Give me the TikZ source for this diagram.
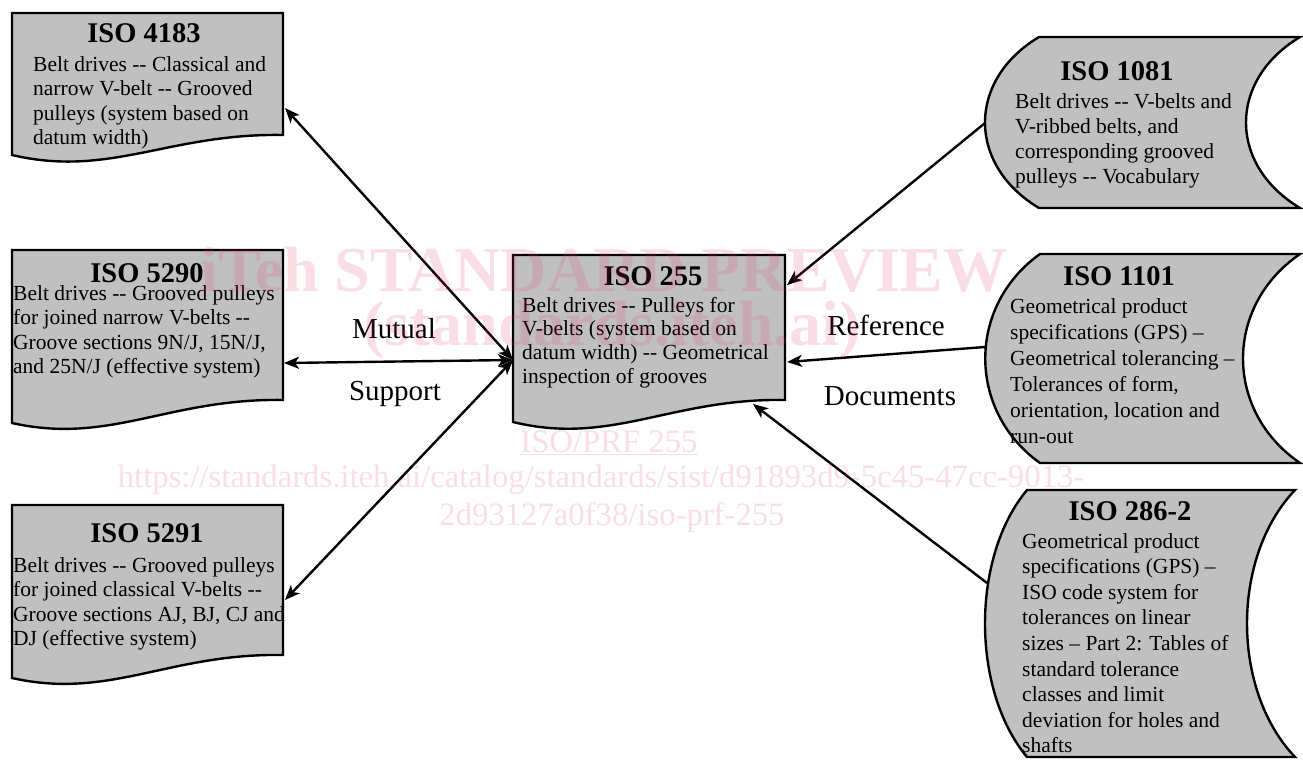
\documentclass[tikz,border=0pt]{standalone}
\usepackage{fontspec}
\newfontfamily\cam{Liberation Serif}
\usetikzlibrary{arrows.meta}
\definecolor{boxgray}{RGB}{192,192,192}
\definecolor{wm}{RGB}{230,60,110}
\begin{document}
\begin{tikzpicture}[x=1pt,y=-1pt,
  shapeline/.style={draw=black, line width=2.4pt, fill=boxgray, line join=miter},
  body/.style={font=\cam\fontsize{21.5}{#1}\selectfont, align=left, anchor=base west, inner sep=0pt},
  body/.default=24.6,
  ttl/.style={font=\cam\bfseries\fontsize{28.5}{30}\selectfont, anchor=base, inner sep=0pt},
  lbl/.style={font=\cam\fontsize{29}{30}\selectfont, inner sep=0pt},
  tip/.tip={Stealth[length=15pt,width=12pt,inset=4pt]},
  conn/.style={line width=2.4pt, -tip},
  dbl/.style={line width=2.4pt, tip-tip},
  wmark/.style={text=wm, text opacity=0.17, inner sep=0pt}
]
\useasboundingbox[fill=white] (0,0) rectangle (1303,760);

% ---------- left document shapes ----------
\path[shapeline] (12,13) -- (283,13) -- (283,135)
  .. controls (169,133) and (110,178) .. (12,155) -- cycle;
\path[shapeline] (12,250) -- (283,250) -- (283,400)
  .. controls (169,398) and (110,445) .. (12,423) -- cycle;
\path[shapeline] (12,505) -- (283,505) -- (283,655)
  .. controls (169,653) and (110,700) .. (12,678) -- cycle;
% ---------- centre document shape ----------
\path[shapeline] (513,255) -- (785,255) -- (785,400)
  .. controls (671,398) and (611,446) .. (513,422) -- cycle;

% ---------- right stored-data shapes ----------
\path[shapeline] (1039,37) -- (1300,37)
  .. controls (1228,80) and (1228,165) .. (1300,208) -- (1039,208)
  .. controls (967,165) and (967,80) .. (1039,37) -- cycle;
\path[shapeline] (1040,254) -- (1300,254)
  .. controls (1224,306) and (1224,411) .. (1300,463) -- (1040,463)
  .. controls (967,411) and (967,306) .. (1040,254) -- cycle;
\path[shapeline] (1027,490) -- (1295,490)
  .. controls (1231,557) and (1231,690) .. (1295,757) -- (1027,757)
  .. controls (971,690) and (971,557) .. (1027,490) -- cycle;

% ---------- texts (body anchored at baseline of last line) ----------
\node[ttl] (t4183) at (144,43) {ISO 4183};
\node[body] (b4183) at (33,144.8) {Belt drives -- Classical and\\narrow V-belt -- Grooved\\pulleys (system based on\\datum width)};

\node[ttl] (t5290) at (147,282) {ISO 5290};
\node[body] (b5290) at (13,373.8) {Belt drives -- Grooved pulleys\\for joined narrow V-belts --\\Groove sections 9N/J, 15N/J,\\and 25N/J (effective system)};

\node[ttl] (t5291) at (147,542) {ISO 5291};
\node[body] (b5291) at (13,645.8) {Belt drives -- Grooved pulleys\\for joined classical V-belts --\\Groove sections AJ, BJ, CJ and\\DJ (effective system)};

\node[ttl] (t255) at (653,285) {ISO 255};
\node[body=23.8] (b255) at (522,383.4) {Belt drives -- Pulleys for\\V-belts (system based on\\datum width) -- Geometrical\\inspection of grooves};

\node[ttl] (t1081) at (1117,80) {ISO 1081};
\node[body=25] (b1081) at (1015,183) {Belt drives -- V-belts and\\V-ribbed belts, and\\corresponding grooved\\pulleys -- Vocabulary};

\node[ttl] (t1101) at (1119,285) {ISO 1101};
\node[body=26] (b1101) at (1010,443) {Geometrical product\\specifications (GPS) –\\Geometrical tolerancing –\\Tolerances of form,\\orientation, location and\\run-out};

\node[ttl] (t2862) at (1130,520) {ISO 286-2};
\node[body=25.6] (b2862) at (1022,752.8) {Geometrical product\\specifications (GPS) –\\ISO code system for\\tolerances on linear\\sizes – Part 2: Tables of\\standard tolerance\\classes and limit\\deviation for holes and\\shafts};

\node[lbl] (mutual) at (394,329) {Mutual};
\node[lbl] (support) at (395,394) {Support};
\node[lbl] (reference) at (886,325) {Reference};
\node[lbl] (documents) at (890,396) {Documents};

% ---------- connectors ----------
\coordinate (c255L) at (513,360);
\coordinate (c4183) at (285,108);
\coordinate (c5290) at (284,363);
\coordinate (c5291) at (285,600);
\draw[dbl] (c4183) -- (c255L);
\draw[dbl] (c5290) -- (c255L);
\draw[dbl] (c5291) -- (c255L);

\coordinate (c1081) at (985,123);
\coordinate (c255a) at (787,285);
\coordinate (c1101) at (985,347);
\coordinate (c255b) at (787,362);
\coordinate (c2862) at (987,583);
\coordinate (c255c) at (753,404);
\draw[conn] (c1081) -- (c255a);
\draw[conn] (c1101) -- (c255b);
\draw[conn] (c2862) -- (c255c);

% ---------- watermark ----------
\node[wmark, font=\cam\bfseries\fontsize{64}{64}\selectfont] (wm1) at (604,270) {iTeh STANDARD PREVIEW};
\node[wmark, font=\cam\bfseries\fontsize{64}{64}\selectfont] (wm2) at (612,330) {(standards.iteh.ai)};
\node[wmark, font=\cam\fontsize{32.7}{34}\selectfont] (wm3) at (609,443) {\underline{ISO/PRF 255}};
\node[wmark, font=\cam\fontsize{32.7}{34}\selectfont] (wm4) at (601,480) {https://standards.iteh.ai/catalog/standards/sist/d91893d9-5c45-47cc-9013-};
\node[wmark, font=\cam\fontsize{32.7}{34}\selectfont] (wm5) at (612,517) {2d93127a0f38/iso-prf-255};
\end{tikzpicture}
\end{document}
